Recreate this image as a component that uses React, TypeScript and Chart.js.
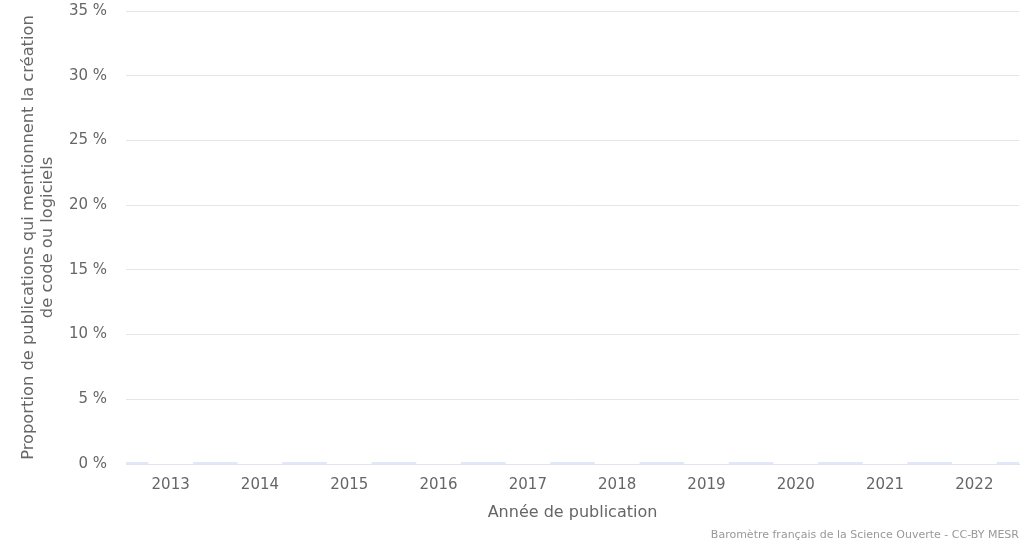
import React, { useEffect, useRef } from "react";
import { Chart, registerables } from "chart.js";

Chart.register(...registerables);

const yearLabels: number[] = [2013, 2014, 2015, 2016, 2017, 2018, 2019, 2020, 2021, 2022];
const barPositions: number[] = [2012.5, 2013.5, 2014.5, 2015.5, 2016.5, 2017.5, 2018.5, 2019.5, 2020.5, 2021.5, 2022.5];
const barValues: number[] = [0.12, 0.12, 0.12, 0.12, 0.12, 0.12, 0.12, 0.12, 0.12, 0.12, 0.12];
const yTicks: number[] = [0, 5, 10, 15, 20, 25, 30, 35];

const yTitle = ["Proportion de publications qui mentionnent la création", "de code ou logiciels"];
const xTitle = "Année de publication";
const credit = "Baromètre français de la Science Ouverte - CC-BY MESR";

const FONT = "'DejaVu Sans', Verdana, sans-serif";

export default function App() {
  const ref = useRef<HTMLCanvasElement | null>(null);

  useEffect(() => {
    if (!ref.current) return;
    const chart = new Chart(ref.current, {
      type: "bar",
      data: {
        datasets: [
          {
            label: "Code",
            data: barPositions.map((x, i) => ({ x, y: barValues[i] })),
            backgroundColor: "#c3d1f2",
            borderWidth: 0,
            barPercentage: 0.5,
            categoryPercentage: 1,
          },
        ],
      },
      options: {
        animation: false,
        responsive: false,
        devicePixelRatio: 1,
        layout: { padding: { top: 11, right: 10, bottom: 0, left: 0 } },
        plugins: {
          legend: { display: false },
          tooltip: { enabled: false },
        },
        scales: {
          x: {
            type: "linear",
            offset: false,
            min: 2012.5,
            max: 2022.5,
            afterFit: (s: any) => {
              s.height = 82;
              s.paddingLeft = 0;
              s.paddingRight = 0;
            },
            afterBuildTicks: (s: any) => {
              s.ticks = yearLabels.map((v) => ({ value: v }));
            },
            ticks: {
              callback: (v: any) => String(v),
              color: "#666666",
              font: { family: FONT, size: 15 },
              padding: 12,
              maxRotation: 0,
              autoSkip: false,
            },
            grid: { display: false, drawTicks: false },
            border: { display: true, color: "#e0e4ee", width: 1 },
            title: {
              display: true,
              text: xTitle,
              color: "#666666",
              font: { family: FONT, size: 16 },
              padding: { top: 0, bottom: 24 },
            },
          },
          y: {
            min: 0,
            max: 35,
            afterFit: (s: any) => {
              s.width = 126;
              s.paddingTop = 0;
              s.paddingBottom = 0;
            },
            afterBuildTicks: (s: any) => {
              s.ticks = yTicks.map((v) => ({ value: v }));
            },
            ticks: {
              callback: (v: any) => v + " %",
              color: "#666666",
              font: { family: FONT, size: 15 },
              padding: 19,
            },
            grid: { color: "#e6e6e6", drawTicks: false, lineWidth: 1 },
            border: { display: false },
            title: {
              display: true,
              text: yTitle,
              color: "#666666",
              font: { family: FONT, size: 16.3, lineHeight: 1.18 },
              padding: { top: 19, bottom: 0 },
            },
          },
        },
      },
    });
    return () => chart.destroy();
  }, []);

  return (
    <div style={{ position: "absolute", left: 0, top: 0, width: 1029, height: 546, background: "#ffffff" }}>
      <canvas ref={ref} width={1029} height={546} />
      <div
        style={{
          position: "absolute",
          right: 10,
          top: 528,
          fontFamily: FONT,
          fontSize: 11,
          lineHeight: "14px",
          color: "#999999",
          whiteSpace: "nowrap",
        }}
      >
        {credit}
      </div>
    </div>
  );
}
